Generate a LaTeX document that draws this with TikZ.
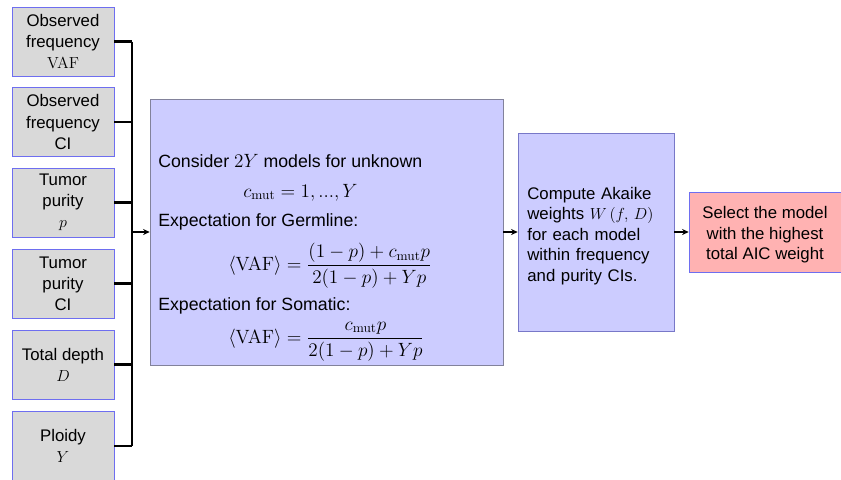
\documentclass[tikz,border=0pt]{standalone}
\usepackage[no-math]{fontspec}
\setmainfont{Liberation Sans}
\usetikzlibrary{positioning,arrows.meta}

\definecolor{inedge}{RGB}{110,110,240}
\definecolor{modeledge}{RGB}{130,130,155}
\definecolor{akaikeedge}{RGB}{120,120,200}

\newcommand{\tallstart}[1]{\rule{0pt}{#1}}

\tikzset{
  inbox/.style={draw=inedge, fill=gray!30, minimum width=76.5pt, minimum height=51.75pt,
    align=center, inner sep=2pt, font=\fontsize{12.6}{15.8}\selectfont},
  modelbox/.style={draw=modeledge, fill=blue!20, minimum width=264.75pt, minimum height=199.5pt},
  akaikebox/.style={draw=akaikeedge, fill=blue!20, minimum width=117pt, minimum height=148.5pt,
    text width=103pt, align=left, inner sep=0pt, font=\fontsize{12.6}{15.4}\selectfont},
  selectbox/.style={draw=inedge, fill=red!30, minimum width=114pt, minimum height=60pt,
    align=center, inner sep=0pt, font=\fontsize{12.6}{15.2}\selectfont},
  mtxt/.style={inner sep=0pt, anchor=base west, font=\fontsize{13.3}{15}\selectfont},
  meq/.style={inner sep=0pt, anchor=base west, font=\fontsize{13.6}{16}\selectfont},
  bus/.style={line width=1.6pt},
  feed/.style={line width=1.6pt, -{Stealth[length=5pt,width=4.5pt]}}
}

\begin{document}
\begin{tikzpicture}[x=0.75pt, y=-0.75pt]
  \useasboundingbox (0,0) rectangle (841,479);
  % inputs
  \node[inbox] (vaf)    at (63,41.5)  {Observed\\frequency\\$\mathrm{VAF}$};
  \node[inbox] (vafci)  at (63,122)   {Observed\\frequency\\CI};
  \node[inbox] (pur)    at (63,202.5) {Tumor\\purity\\$p$};
  \node[inbox] (purci)  at (63,283.5) {Tumor\\purity\\CI};
  \node[inbox] (depth)  at (63,364.5) {Total depth\\$D$};
  \node[inbox] (ploidy) at (63,446)   {Ploidy\\$Y$};
  % models
  \node[modelbox] (model) at (326.5,232) {};
  \node[mtxt] (consider) at (158,167) {Consider $2Y$ models for unknown};
  \node[meq] (cmut) at (243,197) {$c_{\mathrm{mut}} = 1, ..., Y$};
  \node[mtxt] (germ) at (158,226) {Expectation for Germline:};
  \node[meq] (germeq) at (228,270.5)
    {$\displaystyle \langle\mathrm{VAF}\rangle = \frac{(1-p)+c_{\mathrm{mut}}p}{2(1-p)+Yp}$};
  \node[mtxt] (soma) at (158,310) {Expectation for Somatic:};
  \node[meq] (somaeq) at (228,343)
    {$\displaystyle \langle\mathrm{VAF}\rangle = \frac{c_{\mathrm{mut}}p}{2(1-p)+Yp}$};
  % weights and choice
  \node[akaikebox] (akaike) at (596,232)
    {\tallstart{15pt}Compute Akaike\\weights $W\,(f,\,D)$\\for each model\\within frequency\\and purity CIs.};
  \node[selectbox] (choice) at (765,232) {\tallstart{13.5pt}Select the model\\with the highest\\total AIC weight};
  % bus
  \coordinate (join) at (132,232);
  \foreach \n in {vaf,vafci,pur,purci,depth,ploidy}
    \draw[bus] (\n.east) -- (\n.east -| join);
  \draw[bus] (vaf.east -| join) -- (ploidy.east -| join);
  \draw[feed] (join) -- (model.west);
  \draw[feed] (model.east) -- (akaike.west);
  \draw[feed] (akaike.east) -- (choice.west);
\end{tikzpicture}
\end{document}
